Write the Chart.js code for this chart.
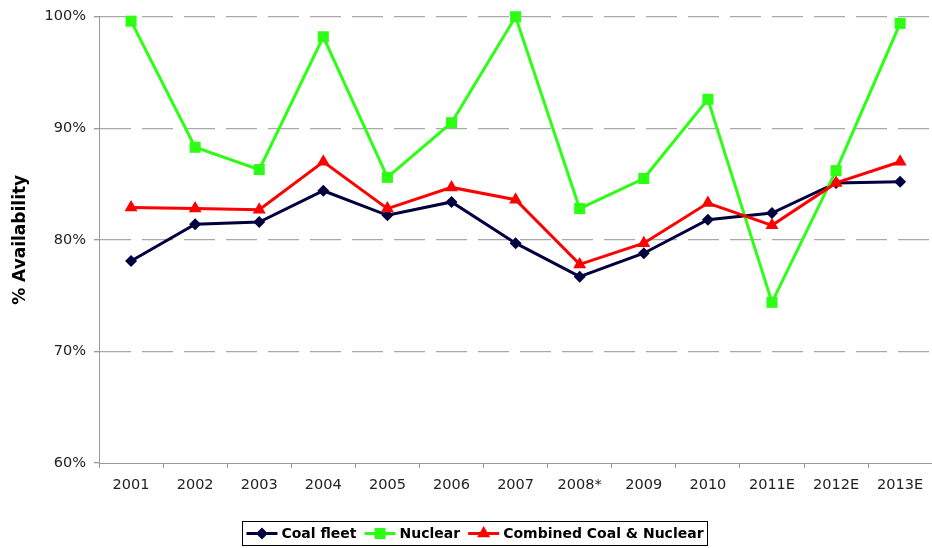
<!DOCTYPE html>
<html>
<head>
<meta charset="utf-8">
<script src="https://cdn.jsdelivr.net/npm/chart.js@4/dist/chart.umd.min.js"></script>
<style>
  html, body { margin: 0; padding: 0; background: #fff; overflow: hidden; }
  #wrap { width: 932px; height: 548px; overflow: hidden; }
</style>
</head>
<body>
<div id="wrap"><canvas id="myChart" width="940" height="548"></canvas></div>
<script>
const years = ['2001', '2002', '2003', '2004', '2005', '2006', '2007', '2008*', '2009', '2010', '2011E', '2012E', '2013E'];
const coalFleet = [78.1, 81.4, 81.6, 84.4, 82.2, 83.4, 79.7, 76.7, 78.8, 81.8, 82.4, 85.1, 85.2];
const nuclear = [99.6, 88.3, 86.3, 98.2, 85.6, 90.5, 100.0, 82.8, 85.5, 92.6, 74.4, 86.2, 99.4];
const combined = [82.9, 82.8, 82.7, 87.0, 82.8, 84.7, 83.6, 77.8, 79.7, 83.3, 81.3, 85.1, 87.0];
const yTicks = [60, 70, 80, 90, 100];

const FONT = "'DejaVu Sans', Verdana, sans-serif";

// draw a marker like the chart uses
function marker(ctx, style, x, y, r, color) {
    ctx.save();
    ctx.fillStyle = color;
    ctx.beginPath();
    if (style === 'rectRot') {
        ctx.moveTo(x, y - r);
        ctx.lineTo(x + r, y);
        ctx.lineTo(x, y + r);
        ctx.lineTo(x - r, y);
    } else if (style === 'rect') {
        const s = Math.SQRT1_2 * r;
        ctx.rect(x - s, y - s, 2 * s, 2 * s);
    } else {
        ctx.moveTo(x, y - r);
        ctx.lineTo(x + r * 0.866, y + r * 0.5);
        ctx.lineTo(x - r * 0.866, y + r * 0.5);
    }
    ctx.closePath();
    ctx.fill();
    ctx.restore();
}

// legend with a border, centred under the plot
const boxLegend = {
    id: 'boxLegend',
    afterDraw(chart) {
        const ctx = chart.ctx;
        const sets = chart.data.datasets;
        ctx.save();
        ctx.font = 'bold 14px ' + FONT;
        const lineLen = 31, gapText = 4, gapItem = 8, pad = 4;
        let total = pad * 2;
        const widths = sets.map(d => ctx.measureText(d.label).width);
        sets.forEach((d, i) => {
            total += lineLen + gapText + widths[i] + (i < sets.length - 1 ? gapItem : 0);
        });
        const cx = 475, top = 521, h = 24;
        let x = cx - total / 2;
        ctx.strokeStyle = '#000';
        ctx.lineWidth = 1;
        ctx.strokeRect(Math.round(x) + 0.5, top + 0.5, Math.round(total), h);
        x += pad;
        const y = top + h / 2 + 0.5;
        sets.forEach((d, i) => {
            ctx.strokeStyle = d.borderColor;
            ctx.lineWidth = 3;
            ctx.beginPath();
            ctx.moveTo(x, y);
            ctx.lineTo(x + lineLen, y);
            ctx.stroke();
            marker(ctx, d.pointStyle, x + lineLen / 2, y, d.pointRadius, d.backgroundColor);
            x += lineLen + gapText;
            ctx.fillStyle = '#000';
            ctx.textBaseline = 'middle';
            ctx.textAlign = 'left';
            ctx.fillText(d.label, x, y + 1);
            x += widths[i] + gapItem;
        });
        ctx.restore();
    }
};

const ctx = document.getElementById('myChart').getContext('2d');

const myChart = new Chart(ctx, {
    type: 'line',
    data: {
        labels: years,
        datasets: [{
            label: 'Coal fleet',
            data: coalFleet,
            borderColor: '#00003f',
            backgroundColor: '#00003f',
            pointStyle: 'rectRot',
            pointRadius: 6,
            order: 3
        }, {
            label: 'Nuclear',
            data: nuclear,
            borderColor: '#2cff14',
            backgroundColor: '#2cff14',
            pointStyle: 'rect',
            pointRadius: 7.8,
            order: 2
        }, {
            label: 'Combined Coal & Nuclear',
            data: combined,
            borderColor: '#ff0000',
            backgroundColor: '#ff0000',
            pointStyle: 'triangle',
            pointRadius: 7.5,
            order: 1
        }]
    },
    options: {
        responsive: false,
        animation: false,
        datasets: {
            line: {
                borderWidth: 3,
                tension: 0,
                pointBorderWidth: 0,
                pointHoverRadius: 7,
                clip: false
            }
        },
        layout: {
            padding: { top: 15, right: 1, bottom: 45, left: 0 }
        },
        plugins: {
            legend: { display: false },
            tooltip: { enabled: false }
        },
        scales: {
            x: {
                offset: true,
                grid: {
                    offset: true,
                    drawOnChartArea: false,
                    drawTicks: true,
                    tickLength: 5,
                    tickColor: '#9a9a9a'
                },
                border: { color: '#9a9a9a', width: 1 },
                ticks: {
                    color: '#222',
                    padding: 9,
                    maxRotation: 0,
                    autoSkip: false,
                    font: { family: FONT, size: 14.5 }
                },
                afterFit(scale) { scale.height = 40; }
            },
            y: {
                min: 60,
                max: 100,
                afterBuildTicks(scale) { scale.ticks = yTicks.map(v => ({ value: v })); },
                grid: {
                    color: c => (c.tick && c.tick.value === 60) ? 'rgba(0,0,0,0)' : '#a8a8a8',
                    lineWidth: 1.3,
                    tickBorderDash: [],
                    tickLength: 5,
                    tickColor: '#9a9a9a'
                },
                border: { color: '#9a9a9a', width: 1, dash: [31, 11] },
                ticks: {
                    color: '#222',
                    padding: 8,
                    font: { family: FONT, size: 14.5 },
                    callback: v => v + '%'
                },
                title: {
                    display: true,
                    text: '% Availability',
                    color: '#000',
                    padding: { top: 10, bottom: 0 },
                    font: { family: FONT, size: 17, weight: 'bold' }
                },
                afterFit(scale) { scale.width = 99; }
            }
        }
    },
    plugins: [boxLegend]
});
</script>
</body>
</html>
